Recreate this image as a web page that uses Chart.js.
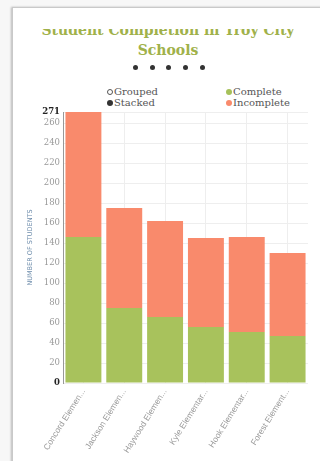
<!DOCTYPE html>
<html>
<head>
<meta charset="utf-8">
<script src="https://cdn.jsdelivr.net/npm/chart.js@4"></script>
<style>
  html, body { margin: 0; padding: 0; width: 320px; height: 461px; overflow: hidden; background: #f7f7f7; }
  #card { position: absolute; left: 12px; top: 7px; width: 320px; height: 460px; background: #fff;
          border: 1px solid #c9c9c9; box-shadow: -1px 0 2px rgba(0,0,0,0.25); }
  #titleClip { position: absolute; left: 0; top: 29px; width: 320px; height: 31px; overflow: hidden; }
  #title { position: absolute; left: 0; top: -9px; width: 336px; text-align: center;
           font-family: "DejaVu Serif", serif; font-weight: bold; font-size: 14px; line-height: 20px; color: #a0b14a; }
  .dot { position: absolute; top: 65px; width: 5px; height: 5px; border-radius: 50%; background: #333; }
  .leg { position: absolute; font-family: "DejaVu Serif", serif; font-size: 10px; color: #555; white-space: nowrap; line-height: 10px; }
  .leg i { display: inline-block; width: 6px; height: 6px; border-radius: 50%; margin-right: 1px; vertical-align: 0px; box-sizing: border-box; }
  #chartBox { position: absolute; left: 0; top: 0; width: 320px; height: 461px; }
</style>
</head>
<body>
<div id="card"></div>
<div id="titleClip"><div id="title">Student Completion in Troy City<br>Schools</div></div>
<div class="dot" style="left:133px"></div>
<div class="dot" style="left:150px"></div>
<div class="dot" style="left:166px"></div>
<div class="dot" style="left:183px"></div>
<div class="dot" style="left:200px"></div>
<div class="leg" style="left:107px; top:87px"><i style="border:1px solid #555; background:#fff"></i>Grouped</div>
<div class="leg" style="left:107px; top:98px"><i style="background:#333"></i>Stacked</div>
<div class="leg" style="left:226px; top:87px"><i style="background:#a6c15a"></i>Complete</div>
<div class="leg" style="left:226px; top:98px"><i style="background:#f98a6c"></i>Incomplete</div>
<div id="chartBox"><canvas id="c" width="320" height="461"></canvas></div>
<script>
const categories = ["Concord Elemen...", "Jackson Elemen...", "Haywood Elemen...", "Kyle Elementar...", "Hook Elementar...", "Forest Element..."];
const completeValues = [146, 75, 66, 56, 51, 47];
const incompleteValues = [125, 100, 96, 89, 95, 83];
const yTickValues = [0, 20, 40, 60, 80, 100, 120, 140, 160, 180, 200, 220, 240, 260, 271];
const seriesNames = ["Complete", "Incomplete"];
const yAxisTitle = "Number of Students";

new Chart(document.getElementById('c'), {
  type: 'bar',
  data: {
    labels: categories,
    datasets: [
      { label: seriesNames[0], data: completeValues, backgroundColor: '#a8c25c', borderWidth: 0 },
      { label: seriesNames[1], data: incompleteValues, backgroundColor: '#f98a6c', borderWidth: 0 }
    ]
  },
  options: {
    responsive: false,
    animation: false,
    events: [],
    layout: { padding: { left: 0, right: 12, top: 112, bottom: 0 } },
    plugins: { legend: { display: false }, title: { display: false }, tooltip: { enabled: false } },
    datasets: { bar: { categoryPercentage: 1, barPercentage: 0.88 } },
    scales: {
      x: {
        stacked: true,
        grid: { offset: false, color: '#eeeeee', drawTicks: false },
        border: { display: false },
        ticks: { minRotation: 58, maxRotation: 58, padding: 4, color: '#999999',
                 font: { family: 'Liberation Sans, Arial, sans-serif', size: 8.5 }, autoSkip: false },
        afterFit: s => { s.height = 78; }
      },
      y: {
        stacked: true,
        min: 0, max: 271,
        grid: { color: '#eeeeee', drawTicks: false },
        border: { display: true, color: '#999999' },
        afterBuildTicks: s => { s.ticks = yTickValues.map(v => ({ value: v })); },
        ticks: {
          padding: 3,
          color: ctx => (ctx.tick && (ctx.tick.value === 0 || ctx.tick.value === 271)) ? '#222' : '#999',
          font: ctx => ({ family: 'DejaVu Serif, serif', size: 8.5,
                          weight: (ctx.tick && (ctx.tick.value === 0 || ctx.tick.value === 271)) ? 'bold' : 'normal' })
        },
        title: { display: true, text: yAxisTitle.toUpperCase(), color: '#6d8cab',
                 font: { family: 'DejaVu Sans', size: 6.5 }, padding: { top: 26, bottom: 0 } },
        afterFit: s => { s.width = 63; }
      }
    }
  }
});
</script>
</body>
</html>
